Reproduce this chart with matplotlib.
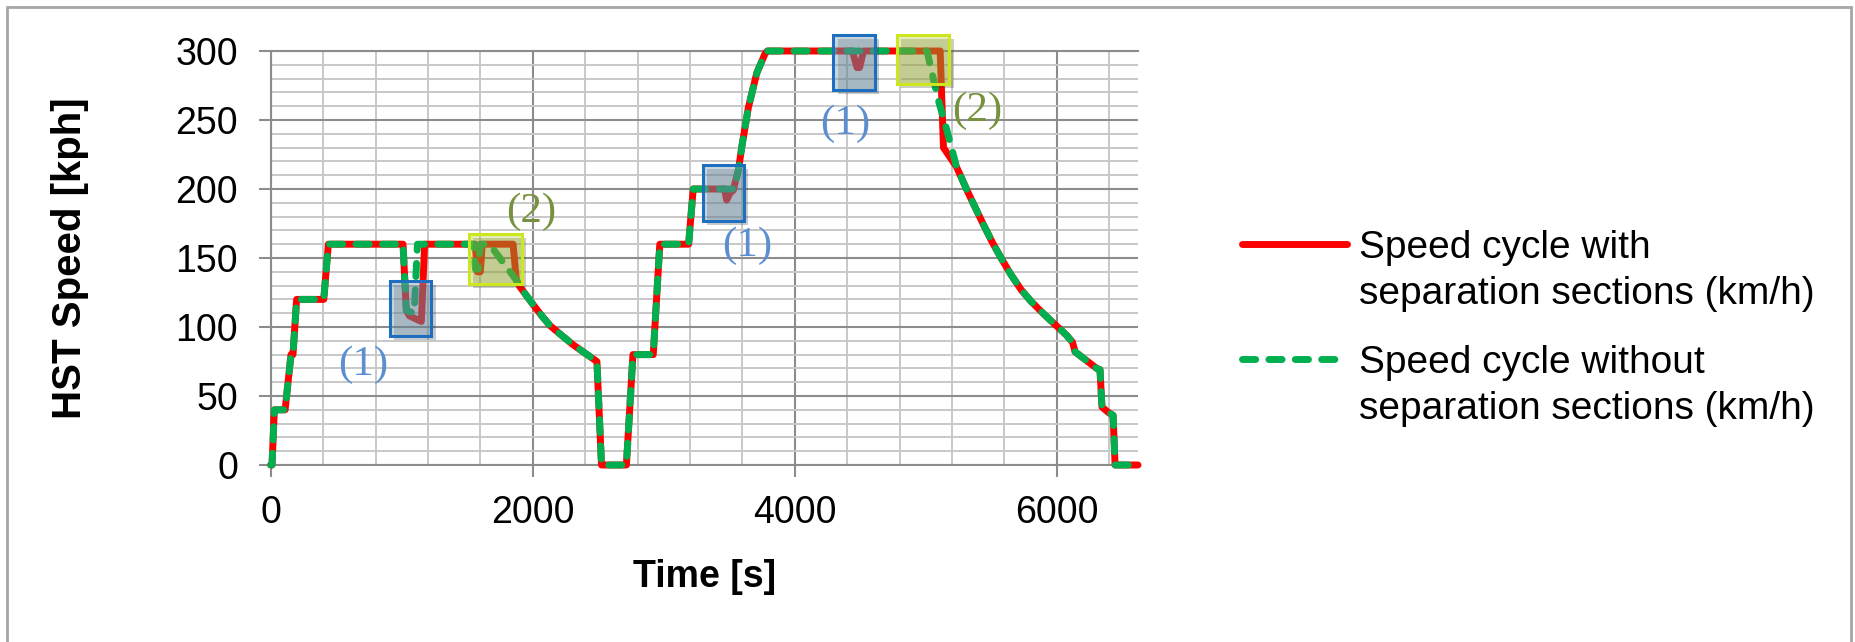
import matplotlib
matplotlib.use('Agg')
import matplotlib.pyplot as plt
import matplotlib.patheffects as pe
from matplotlib.patches import Rectangle
from matplotlib.ticker import MultipleLocator
from matplotlib.legend_handler import HandlerLine2D

plt.rcParams['font.family'] = ['Liberation Sans', 'DejaVu Sans']

# speed cycle with separation sections (red)
time_with = [0, 10, 28, 110, 155, 170, 198, 405, 440, 1010, 1035, 1060, 1150, 1175,
             1560, 1578, 1600, 1615, 1850, 1875, 1903, 2005, 2070, 2132, 2220, 2310,
             2400, 2490, 2525, 2715, 2765, 2920, 2970, 3190, 3225, 3465, 3480, 3505,
             3530, 3570, 3600, 3646, 3710, 3773, 3790, 4440, 4475, 4495, 4525, 5110,
             5135, 5235, 5320, 5436, 5510, 5581, 5650, 5728, 5800, 5873, 5950, 6019,
             6075, 6120, 6140, 6305, 6330, 6345, 6395, 6430, 6445, 6620]
speed_with = [0, 0, 40, 40, 80, 80, 120, 120, 160, 160, 112, 108, 104, 160,
              160, 140, 140, 160, 160, 134, 129, 116, 108, 101, 94, 87,
              81, 75, 0, 0, 80, 80, 160, 160, 200, 200, 192, 197,
              199, 214, 233, 259, 284, 298, 300, 300, 288, 288, 300, 300,
              230, 216, 198, 175, 161, 149, 138, 127, 119, 112, 105, 99,
              94, 89, 82, 70, 69, 42, 38, 36, 0, 0]

# speed cycle without separation sections (green)
time_without = [0, 10, 28, 110, 155, 170, 198, 405, 440, 1010, 1035, 1095, 1120,
                1550, 1562, 1585, 1600, 1670, 1875, 1903, 2005, 2070, 2132, 2220, 2310,
                2400, 2490, 2525, 2715, 2765, 2920, 2970, 3190, 3225, 3540, 3570, 3600,
                3646, 3710, 3773, 3790, 5010, 5040, 5100, 5160, 5235, 5320, 5436, 5510,
                5581, 5650, 5728, 5800, 5873, 5950, 6019, 6075, 6120, 6140, 6305, 6330,
                6345, 6395, 6430, 6445, 6620]
speed_without = [0, 0, 40, 40, 80, 80, 120, 120, 160, 160, 112, 110, 160,
                 160, 142, 142, 160, 160, 134, 129, 116, 108, 101, 94, 87,
                 81, 75, 0, 0, 80, 80, 160, 160, 200, 200, 214, 233,
                 259, 284, 298, 300, 300, 287, 263, 243, 216, 198, 175, 161,
                 149, 138, 127, 119, 112, 105, 99, 94, 89, 82, 70, 69,
                 42, 38, 36, 0, 0]

# highlighted regions: (t_start, t_end, v_low, v_high)
boxes_1 = [(911, 1227, 93.5, 133.3), (3302, 3615, 177, 217.4), (4295, 4613, 271.7, 311.6)]
boxes_2 = [(1516, 1916, 131.2, 167.4), (4779, 5181, 275.9, 311.6)]
labels_1 = [(703, 73), (3640, 158.8), (4384, 247.6)]
labels_2 = [(1986, 183.5), (5396, 256.7)]


class FirstLineHandler(HandlerLine2D):
    # put the legend line level with the first text line
    def create_artists(self, legend, orig_handle, xdescent, ydescent, width, height,
                       fontsize, trans):
        artists = super().create_artists(legend, orig_handle, xdescent, ydescent,
                                         width, height, fontsize, trans)
        for a in artists:
            a.set_ydata([y + 0.72 * fontsize for y in a.get_ydata()])
        return artists


fig = plt.figure(figsize=(18.56, 6.42), dpi=100)
ax = fig.add_axes([270.7 / 1856, 1 - 465 / 642, (1138 - 270.7) / 1856, (465 - 51) / 642])

red = '#ff0000'
green = '#00b050'
line_red, = ax.plot(time_with, speed_with, color=red, lw=5, solid_capstyle='round',
                    solid_joinstyle='round', clip_on=False, zorder=3,
                    label='Speed cycle with\nseparation sections (km/h)')
line_green, = ax.plot(time_without, speed_without, color=green, lw=5, dashes=(1.9, 1.9),
                      dash_capstyle='round', clip_on=False, zorder=4,
                      label='Speed cycle without\nseparation sections (km/h)')

shadow = [pe.SimplePatchShadow(offset=(3, -3), alpha=0.25), pe.Normal()]
for t0, t1, v0, v1 in boxes_1:
    ax.add_patch(Rectangle((t0, v0), t1 - t0, v1 - v0, facecolor='#7a9fb5', alpha=0.42,
                           edgecolor='none', zorder=5, clip_on=False, path_effects=shadow))
    ax.add_patch(Rectangle((t0, v0), t1 - t0, v1 - v0, facecolor='none',
                           edgecolor='#1f6fc0', lw=2.2, zorder=6, clip_on=False))
for t0, t1, v0, v1 in boxes_2:
    ax.add_patch(Rectangle((t0, v0), t1 - t0, v1 - v0, facecolor='#b5cc3a', alpha=0.35,
                           edgecolor='none', zorder=5, clip_on=False, path_effects=shadow))
    ax.add_patch(Rectangle((t0, v0), t1 - t0, v1 - v0, facecolor='none',
                           edgecolor='#cde61e', lw=2.2, zorder=6, clip_on=False))

for t, v in labels_1:
    ax.text(t, v, '(1)', color='#5b8fd0', fontsize=31, family='Liberation Serif',
            ha='center', va='center', zorder=7)
for t, v in labels_2:
    ax.text(t, v, '(2)', color='#76923c', fontsize=31, family='Liberation Serif',
            ha='center', va='center', zorder=7)

ax.set_xlim(0, 6620)
ax.set_ylim(0, 300)
ax.xaxis.set_major_locator(MultipleLocator(2000))
ax.xaxis.set_minor_locator(MultipleLocator(400))
ax.yaxis.set_major_locator(MultipleLocator(50))
ax.yaxis.set_minor_locator(MultipleLocator(10))

ax.grid(True, which='major', color='#8c8c8c', lw=1.5, zorder=1)
ax.grid(True, which='minor', color='#c8c8c8', lw=1.4, zorder=0)
ax.set_axisbelow(True)

for side in ['left', 'bottom', 'top']:
    ax.spines[side].set_color('#8c8c8c')
    ax.spines[side].set_linewidth(1.5)
ax.spines['right'].set_visible(False)

ax.tick_params(which='major', length=8.6, width=1.5, color='#8c8c8c', labelsize=27)
ax.tick_params(axis='y', which='major', pad=15)
ax.tick_params(axis='x', which='major', pad=13)
ax.tick_params(which='minor', length=0)

ax.set_xlabel('Time [s]', fontsize=27, fontweight='bold')
ax.set_ylabel('HST Speed [kph]', fontsize=29, fontweight='bold')
ax.xaxis.set_label_coords(0.5, -0.227)
ax.yaxis.set_label_coords(-0.209, 0.5)

leg = fig.legend(handles=[line_red, line_green], loc='center left',
                 bbox_to_anchor=(1242 / 1856, 0.488), frameon=False,
                 fontsize=28, handlelength=2.7, handletextpad=0.3, borderpad=0,
                 borderaxespad=0, labelspacing=0.85,
                 handler_map={matplotlib.lines.Line2D: FirstLineHandler()})
for txt in leg.get_texts():
    txt.set_linespacing(1.35)

# outer chart frame
fig.add_artist(Rectangle((6.7 / 1856, -0.05), (1851.5 - 6.7) / 1856, 1.05 - 6.7 / 642,
                         transform=fig.transFigure, fill=False, edgecolor='#a6a6a6', lw=2))

fig.savefig('out.png', dpi=100)
